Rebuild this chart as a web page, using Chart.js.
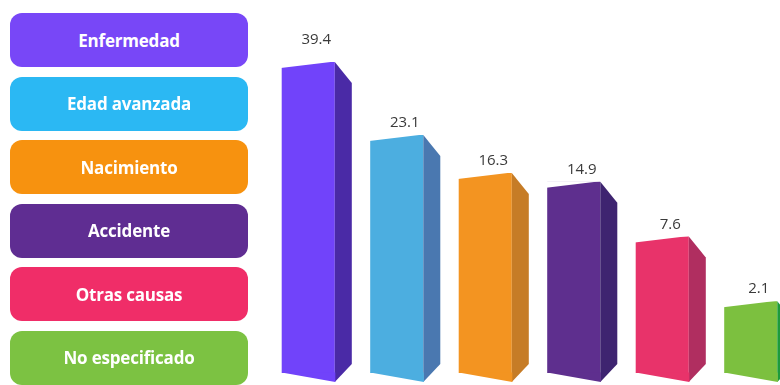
<!DOCTYPE html>
<html lang="es">
<head>
    <meta charset="UTF-8">
    <title>Causas</title>
    <script src="https://cdn.jsdelivr.net/npm/chart.js"></script>
    <style>
        html, body { margin: 0; padding: 0; background: #fff; }
        #wrap { position: relative; width: 780px; height: 385px; overflow: hidden; }
        #chart { position: absolute; left: 0; top: 0; }
        .tag {
            position: absolute; left: 10px; width: 238px; height: 54px;
            border-radius: 12px; color: #fff;
            font-family: "Open Sans", sans-serif; font-weight: 700; font-size: 17px;
            letter-spacing: -0.2px;
            display: flex; align-items: center; justify-content: center;
        }
    </style>
</head>
<body>
<div id="wrap">
    <canvas id="chart" width="800" height="385"></canvas>
</div>
<script>
// datos
var categorias = ['Enfermedad', 'Edad avanzada', 'Nacimiento', 'Accidente', 'Otras causas', 'No especificado'];
var valores = [39.4, 23.1, 16.3, 14.9, 7.6, 2.1];

// colores
var coloresEtiqueta = ['#7847f7', '#2bb8f3', '#f7920f', '#5f2d92', '#f02d68', '#7cc242'];
var coloresFrente = ['#7143fa', '#4caee0', '#f39421', '#5e2f8e', '#e8336a', '#7cc03f'];
var coloresLado = ['#4a2aa6', '#4a78b0', '#c67c26', '#3e2470', '#b02e60', '#1c9b3b'];

// etiquetas de la izquierda
var wrap = document.getElementById('wrap');
categorias.forEach(function(c, i) {
    var d = document.createElement('div');
    d.className = 'tag';
    d.style.top = (13 + i * 63.5) + 'px';
    d.style.background = coloresEtiqueta[i];
    d.textContent = c;
    wrap.appendChild(d);
});

// escala de raiz cuadrada (las barras no son proporcionales)
class SqrtScale extends Chart.LinearScale {
    getPixelForValue(value) {
        if (value === null || value === undefined) return NaN;
        var lo = Math.sqrt(Math.max(this.min, 0)), hi = Math.sqrt(this.max);
        return this.getPixelForDecimal((Math.sqrt(Math.max(value, 0)) - lo) / (hi - lo));
    }
    getValueForPixel(pixel) {
        var lo = Math.sqrt(Math.max(this.min, 0)), hi = Math.sqrt(this.max);
        var s = lo + this.getDecimalForPixel(pixel) * (hi - lo);
        return s * s;
    }
}
SqrtScale.id = 'sqrt';
SqrtScale.defaults = {};
Chart.register(SqrtScale);

// caras laterales, cortes y valores
var barras3d = {
    id: 'barras3d',
    afterDatasetsDraw: function(chart) {
        var ctx = chart.ctx;
        var meta = chart.getDatasetMeta(0);
        meta.data.forEach(function(bar, i) {
            var L = bar.x - bar.width / 2, R = bar.x + bar.width / 2;
            var top = bar.y, base = bar.base;
            var d = 17;
            ctx.save();
            // lado
            ctx.fillStyle = coloresLado[i];
            ctx.beginPath();
            ctx.moveTo(R, top);
            ctx.lineTo(R + d, top + 21);
            ctx.lineTo(R + d, base - 9);
            ctx.lineTo(R, base + 9);
            ctx.closePath();
            ctx.fill();
            // borde inferior inclinado
            ctx.fillStyle = coloresFrente[i];
            ctx.beginPath();
            ctx.moveTo(L, base - 0.5);
            ctx.lineTo(R + 0.5, base - 0.5);
            ctx.lineTo(R + 0.5, base + 9);
            ctx.closePath();
            ctx.fill();
            // borde superior inclinado
            ctx.fillStyle = '#fff';
            ctx.beginPath();
            ctx.moveTo(L - 1, top - 0.5);
            ctx.lineTo(R, top - 0.5);
            ctx.lineTo(L - 1, top + 6);
            ctx.closePath();
            ctx.fill();
            // valor
            ctx.fillStyle = '#3a3a3a';
            ctx.font = '15px "Open Sans", sans-serif';
            ctx.textAlign = 'center';
            ctx.textBaseline = 'middle';
            ctx.fillText(valores[i].toFixed(1), bar.x + 8, top - (i === 0 ? 22 : 12));
            ctx.restore();
        });
    }
};

var chart = new Chart(document.getElementById('chart').getContext('2d'), {
    type: 'bar',
    data: {
        labels: categorias,
        datasets: [{
            data: valores,
            backgroundColor: coloresFrente,
            borderWidth: 0,
            categoryPercentage: 1,
            barPercentage: 0.6
        }]
    },
    options: {
        responsive: false,
        animation: false,
        layout: { padding: { left: 264, right: 5, top: 28, bottom: 12 } },
        plugins: { legend: { display: false }, tooltip: { enabled: false } },
        scales: {
            x: { type: 'category', display: false },
            y: { type: 'sqrt', min: 0, max: 48.5, display: false }
        }
    },
    plugins: [barras3d]
});
</script>
</body>
</html>
